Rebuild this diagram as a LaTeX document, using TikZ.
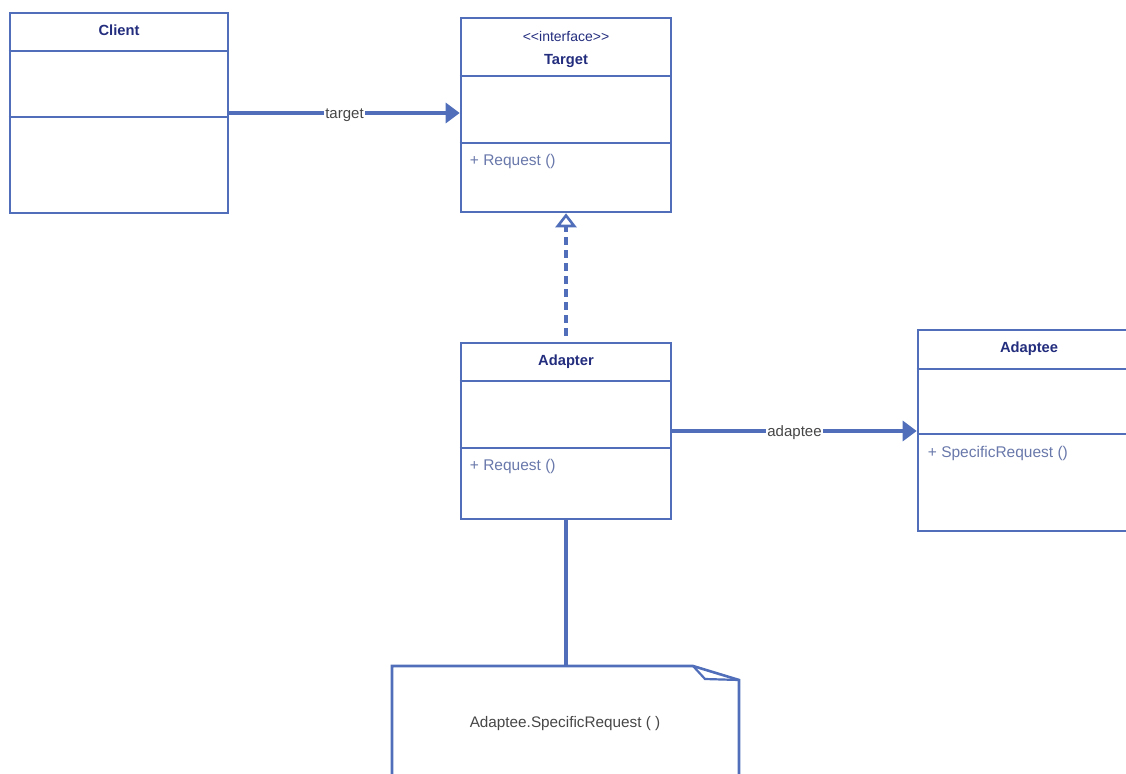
\documentclass[tikz,border=0pt]{standalone}
\usepackage{fontspec}
\setmainfont{Liberation Sans}
\usetikzlibrary{arrows.meta,calc,positioning}
\definecolor{umlline}{RGB}{80,110,185}
\definecolor{umlname}{RGB}{35,45,125}
\definecolor{umlmember}{RGB}{105,120,170}
\definecolor{labelgray}{RGB}{70,70,70}

\begin{document}
\begin{tikzpicture}[x=1pt,y=-1pt,
    classbox/.style={draw=umlline, line width=2.6pt, inner sep=0pt},
    compline/.style={umlline, line width=2.2pt},
    classname/.style={font=\fontsize{14.7}{17}\selectfont\bfseries, text=umlname, inner sep=0pt, yshift=-2.5pt},
    stereo/.style={font=\fontsize{14}{16}\selectfont, text=umlname, inner sep=0pt, yshift=-2.5pt},
    member/.style={font=\fontsize{15.5}{17}\selectfont, text=umlmember, anchor=west, inner sep=0pt, yshift=-2.5pt},
    assoc/.style={draw=umlline, line width=3.2pt, -{Triangle[length=14pt,width=20pt]}},
    realize/.style={draw=umlline, line width=3.2pt, dash pattern=on 8pt off 5pt, shorten <=6pt,
        -{Triangle[open,length=14pt,width=21pt,line width=2.6pt]}},
    linklabel/.style={fill=white, text=labelgray, font=\fontsize{15}{17}\selectfont, inner sep=1.5pt, yshift=-2pt},
    notetxt/.style={text=labelgray, font=\fontsize{15.3}{17}\selectfont, inner sep=0pt, yshift=-2pt}
]
\useasboundingbox (0,0) rectangle (1126,773);

% classes
\node[classbox, minimum width=218pt, minimum height=200pt] (client) at (119,113) {};
\node[classbox, minimum width=210pt, minimum height=194pt] (target) at (566,115) {};
\node[classbox, minimum width=210pt, minimum height=176pt] (adapter) at (566,431) {};
\node[classbox, minimum width=222pt, minimum height=201pt] (adaptee) at (1029,430.5) {};

\draw[compline] ($(client.north west)+(0,39)$) -- ($(client.north east)+(0,39)$);
\draw[compline] ($(client.north west)+(0,105)$) -- ($(client.north east)+(0,105)$);
\draw[compline] ($(target.north west)+(0,59)$) -- ($(target.north east)+(0,59)$);
\draw[compline] ($(target.north west)+(0,126)$) -- ($(target.north east)+(0,126)$);
\draw[compline] ($(adapter.north west)+(0,39)$) -- ($(adapter.north east)+(0,39)$);
\draw[compline] ($(adapter.north west)+(0,106)$) -- ($(adapter.north east)+(0,106)$);
\draw[compline] ($(adaptee.north west)+(0,40)$) -- ($(adaptee.north east)+(0,40)$);
\draw[compline] ($(adaptee.north west)+(0,105)$) -- ($(adaptee.north east)+(0,105)$);

\node[classname] (clientname) at ($(client.north)+(0,16)$) {Client};
\node[stereo] (targetstereo) at ($(target.north)+(0,17)$) {\textless\kern0pt\textless interface\textgreater\kern0pt\textgreater};
\node[classname] (targetname) at ($(target.north)+(0,42)$) {Target};
\node[classname] (adaptername) at ($(adapter.north)+(0,17)$) {Adapter};
\node[classname] (adapteename) at ($(adaptee.north)+(0,17)$) {Adaptee};

\node[member] (targetop) at ($(target.north west)+(10,142)$) {+ Request ()};
\node[member] (adapterop) at ($(adapter.north west)+(10,122)$) {+ Request ()};
\node[member] (adapteeop) at ($(adaptee.north west)+(11,122)$) {+ SpecificRequest ()};

% note
\coordinate (notetop) at (567,666);
\draw[classbox] (392,800) -- (392,666) -- (693,666) -- (739,680) -- (739,800);
\draw[compline] (693,666) -- (705,679) -- (739,680);
\node[notetxt] (notetext) at (565,722) {Adaptee.SpecificRequest ( )};

% connectors
\draw[assoc] (client.east) -- (target.west |- client.east)
    node[midway, linklabel] (targetlabel) {target};
\draw[assoc] (adapter.east) -- (adaptee.west |- adapter.east)
    node[midway, linklabel] (adapteelabel) {adaptee};
\draw[realize] (adapter.north) -- (target.south);
\draw[umlline, line width=3.2pt] (adapter.south) -- (adapter.south |- notetop);
\end{tikzpicture}
\end{document}
